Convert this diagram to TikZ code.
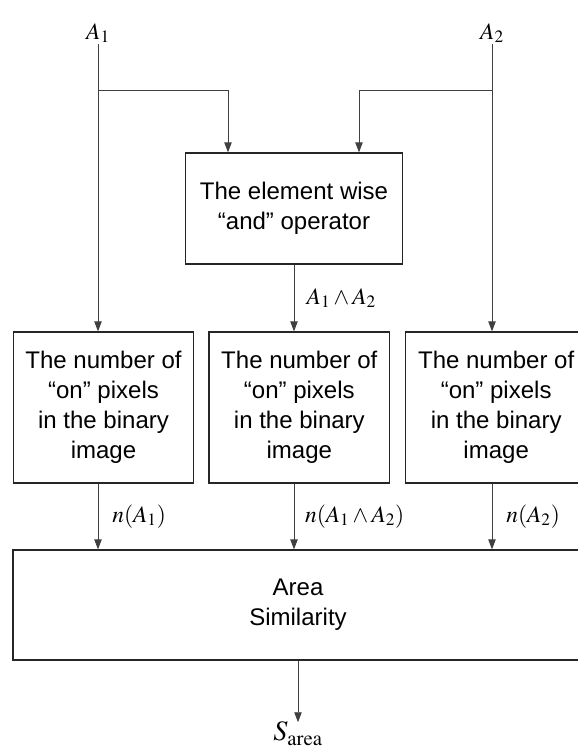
\documentclass[tikz,border=0pt]{standalone}
\usepackage{mathptmx}
\usepackage{fontspec}
\setsansfont{Liberation Sans}
\usetikzlibrary{arrows.meta, positioning}

\begin{document}
\begin{tikzpicture}[
    >={Triangle[length=0.3cm, width=0.22cm]}, line width=0.8pt,
    font=\fontsize{20}{24}\selectfont,
    procbox/.style={draw=black!85, line width=1pt, align=center,
      minimum width=5.42cm, minimum height=4.53cm,
      font=\fontsize{20.5}{25.5}\selectfont\sffamily},
    flow/.style={->, draw=black!75},
    sig/.style={inner sep=1pt}
  ]
  \useasboundingbox (0,0) rectangle (17.34,-22.53);
  \clip (0,0) rectangle (17.34,-22.53);

  % inputs
  \node[sig] (aone) at (2.94,-0.99) {$A_1$};
  \node[sig] (atwo) at (14.76,-0.99) {$A_2$};

  \node[procbox, minimum width=6.51cm, minimum height=3.33cm] (andop)
    at (8.82,-6.255) {The element wise\\“and” operator};

  % pixel counters
  \node[procbox] (countone) at (3.105,-12.225)
    {The number of\\“on” pixels\\in the binary\\image};
  \node[procbox, right=0.42cm of countone] (countboth)
    {The number of\\“on” pixels\\in the binary\\image};
  \node[procbox, right=0.45cm of countboth] (counttwo)
    {The number of\\“on” pixels\\in the binary\\image};

  \node[procbox, minimum width=17.1cm, minimum height=3.3cm] (simil)
    at (8.94,-18.15) {Area\\Similarity};

  \coordinate (splitone) at (aone.south |- 0,-2.7);
  \coordinate (splittwo) at (atwo.south |- 0,-2.7);
  \coordinate[below=1.85cm of simil.south] (outpt);
  \node[below=-0.02cm of outpt, inner sep=0pt,
        font=\fontsize{24}{26}\selectfont] (sarea) {$S_{\mathrm{area}}$};

  \draw[flow] (aone.south) -- (aone.south |- countone.north);
  \draw[flow] (atwo.south) -- (atwo.south |- counttwo.north);
  \draw[flow] (splitone) -| ([xshift=-1.98cm]andop.north);
  \draw[flow] (splittwo) -| ([xshift=1.95cm]andop.north);
  \draw[flow] (andop.south) -- node[right=0.25cm] {$A_1 \wedge A_2$}
    (andop.south |- countboth.north);

  \draw[flow] (aone.south |- countone.south) --
    node[right=0.3cm] {$n(A_1)$} (aone.south |- simil.north);
  \draw[flow] (andop.south |- countboth.south) --
    node[right=0.2cm] {$n(A_1 \wedge A_2)$} (andop.south |- simil.north);
  \draw[flow] (atwo.south |- counttwo.south) --
    node[right=0.3cm] {$n(A_2)$} (atwo.south |- simil.north);
  \draw[flow] (simil.south) -- (outpt);
\end{tikzpicture}
\end{document}
